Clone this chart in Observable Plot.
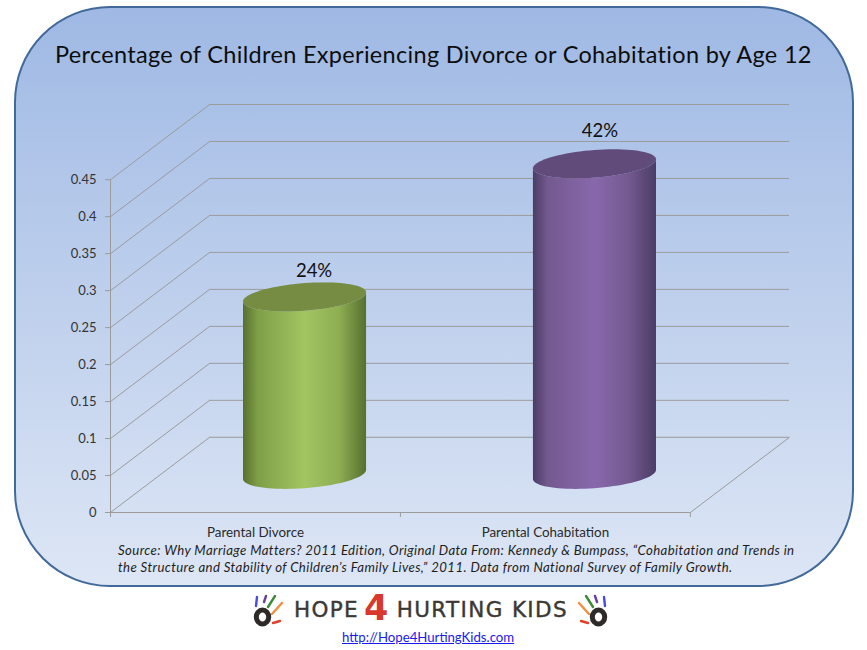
<!DOCTYPE html>
<html>
<head>
<meta charset="utf-8">
<script src="https://cdn.jsdelivr.net/npm/d3@7"></script>
<script src="https://cdn.jsdelivr.net/npm/@observablehq/plot@0.6"></script>
<style>
  html, body { margin: 0; padding: 0; background: #fff; }
  #stage { position: relative; width: 867px; height: 650px; overflow: hidden; font-family: Lato, "Open Sans", sans-serif; }
  #panel { position: absolute; left: 14px; top: 6px; width: 836px; height: 577px; border: 2.5px solid #41699a; border-radius: 96px;
           background: linear-gradient(to bottom, #9fb9e4 0%, #dde6f5 100%); box-sizing: content-box; }
  #plot { position: absolute; left: 0; top: 0; }
  #plot svg { background: transparent; display: block; }
  .abs { position: absolute; white-space: nowrap; }
  #title { left: 55px; top: 38px; font-size: 23.5px; color: #0d0d0d; letter-spacing: .32px; line-height: 32px; }
  #source { left: 118px; top: 542px; font-size: 13.2px; font-style: italic; color: #1d1d1d; line-height: 16.5px; letter-spacing: .39px; }
  #brand { left: 294px; top: 594px; font-family: "DejaVu Sans", sans-serif; font-size: 21.5px; color: #3b3835; letter-spacing: 1.35px; line-height: 32px; -webkit-text-stroke: .4px #3b3835; }
  #brand b { color: #d8392c; -webkit-text-stroke: 0; font-size: 35px; font-weight: 700; margin: 0 7px 0 5px; vertical-align: -3px; line-height: 20px; }
  #link { left: 342px; top: 629px; font-size: 13.2px; color: #1a1aee; text-decoration: underline; line-height: 17px; }
  .hand { position: absolute; top: 592px; width: 34px; height: 36px; }
</style>
</head>
<body>
<div id="stage">
  <div id="panel"></div>
  <div id="plot"></div>
  <div id="title" class="abs">Percentage of Children Experiencing Divorce or Cohabitation by Age 12</div>
  <div id="source" class="abs">Source: Why Marriage Matters? 2011 Edition, Original Data From: Kennedy &amp; Bumpass, “Cohabitation and Trends in<br>the Structure and Stability of Children’s Family Lives,” 2011. Data from National Survey of Family Growth.</div>
  <svg class="hand" style="left:252px" viewBox="0 0 34 36">
    <g fill="none" stroke-linecap="round" stroke-width="2.4">
      <path d="M5 5 L4 14" stroke="#4a4ae0"/><path d="M14 4 L12 10" stroke="#6a3f9a"/>
      <path d="M23 4 L16 15" stroke="#3e8a3a"/><path d="M30 11 L20 22" stroke="#ee9040"/>
      <path d="M28 29 L21 31" stroke="#e0402c"/>
    </g>
    <ellipse cx="10.5" cy="25" rx="6.2" ry="7" fill="#fff" stroke="#2d2a28" stroke-width="5"/>
  </svg>
  <div id="brand" class="abs">HOPE<b>4</b>HURTING KIDS</div>
  <svg class="hand" style="left:575px; transform: scaleX(-1)" viewBox="0 0 34 36">
    <g fill="none" stroke-linecap="round" stroke-width="2.4">
      <path d="M5 5 L4 14" stroke="#4a4ae0"/><path d="M14 4 L12 10" stroke="#6a3f9a"/>
      <path d="M23 4 L16 15" stroke="#3e8a3a"/><path d="M30 11 L20 22" stroke="#ee9040"/>
      <path d="M28 29 L21 31" stroke="#e0402c"/>
    </g>
    <ellipse cx="10.5" cy="25" rx="6.2" ry="7" fill="#fff" stroke="#2d2a28" stroke-width="5"/>
  </svg>
  <a id="link" class="abs" href="http://Hope4HurtingKids.com">http://Hope4HurtingKids.com</a>
</div>
<script>
// ---- Data ----
const categories = ["Parental Divorce", "Parental Cohabitation"];
const values = [0.24, 0.42];
const valueLabels = ["24%", "42%"];
const yTicks = [0, 0.05, 0.1, 0.15, 0.2, 0.25, 0.3, 0.35, 0.4, 0.45];
const bodyColors = [
  ["#58702f", "#7f9f47", "#a2c562", "#8eae52", "#56702f"],
  ["#4b3c66", "#73598f", "#8868ac", "#73598f", "#4b3c66"]
];
const capColors = ["#758c42", "#614b7a"];

// Depth of the floor in scale units: the oblique projection of the 3-D box.
const depthX = 0.342;
const depthY = 0.1017;
const slots = categories.map((_, i) => i + 0.5);
const radius = 0.2017;     // half width of a cylinder, x units
const radial = 0.193;      // half depth of a cylinder, share of the floor depth

// One rim point of a cylinder (oblique circle), in scale units
const rim = (i, level, t) => ({
  x: slots[i] + depthX / 2 + radius * Math.cos(t) + radial * depthX * Math.sin(t),
  y: depthY / 2 + level + radial * depthY * Math.sin(t)
});
const t0 = Math.atan(radial * depthX / radius);
const steps = d3.range(0, 41).map(k => k / 40);
const frontArc = (i, level) => steps.map(s => rim(i, level, Math.PI + t0 + s * Math.PI));
const backArc  = (i, level) => steps.map(s => rim(i, level, Math.PI + t0 - s * Math.PI));
const zipArcs = (a, b) => a.map((p, k) => ({x1: p.x, y1: p.y, x2: b[k].x, y2: b[k].y}));

const gradients = () => {
  const defs = d3.create("svg:defs");
  bodyColors.forEach((stops, i) => {
    const g = defs.append("linearGradient").attr("id", "body" + i);
    [0, 0.12, 0.5, 0.78, 1].forEach((o, k) =>
      g.append("stop").attr("offset", o).attr("stop-color", stops[k]));
  });
  return defs.node();
};

const grid = {stroke: "#9b9b9b", strokeWidth: 1};
const xEnd = categories.length;

const chart = Plot.plot({
  width: 867,
  height: 650,
  marginLeft: 110,
  marginRight: 78,
  marginTop: 104,
  marginBottom: 138,
  style: {background: "transparent", overflow: "visible"},
  x: {domain: [0, xEnd + depthX], axis: null},
  y: {domain: [0, 0.45 + depthY], axis: null},
  marks: [
    gradients,
    // back wall
    Plot.ruleY(yTicks, {y: d => d + depthY, x1: depthX, x2: xEnd + depthX, ...grid}),
    // left wall diagonals
    Plot.link(yTicks, {x1: 0, y1: d => d, x2: depthX, y2: d => d + depthY, ...grid}),
    // floor edge on the right
    Plot.link([0], {x1: xEnd, y1: 0, x2: xEnd + depthX, y2: depthY, ...grid}),
    // axes
    Plot.ruleX([0], {y1: 0, y2: 0.45, ...grid}),
    Plot.ruleY([0], {x1: 0, x2: xEnd, ...grid}),
    Plot.axisY({ticks: yTicks, tickFormat: d => String(d), tickSize: 5, tickPadding: 9, stroke: "#9b9b9b",
                fontSize: 13, color: "#333", fill: "#333", label: null}),
    Plot.axisX({ticks: d3.range(0, xEnd + 1), tickSize: 5, tickFormat: () => "", stroke: "#9b9b9b", label: null}),
    Plot.axisX({ticks: slots, tickSize: 0, tickPadding: 15, tickFormat: d => categories[slots.indexOf(d)],
                fontSize: 13.4, fill: "#2a2a2a", label: null, stroke: "none"}),
    // cylinders
    ...values.flatMap((v, i) => [
      Plot.area(zipArcs(frontArc(i, 0), frontArc(i, v)), {x1: "x1", y1: "y1", x2: "x2", y2: "y2", fill: `url(#body${i})`}),
      Plot.area(zipArcs(frontArc(i, v), backArc(i, v)), {x1: "x1", y1: "y1", x2: "x2", y2: "y2", fill: capColors[i]})
    ]),
    // value labels
    Plot.text([0], {x: slots[0] + depthX / 2, y: values[0] + depthY / 2, text: () => valueLabels[0],
                    dx: 9, dy: -26, fontSize: 18.5, fill: "#111"}),
    Plot.text([0], {x: slots[1] + depthX / 2, y: values[1] + depthY / 2, text: () => valueLabels[1],
                    dx: 5, dy: -33, fontSize: 18.5, fill: "#111"})
  ]
});
chart.style.fontFamily = 'Lato, "Open Sans", sans-serif';
document.getElementById("plot").appendChild(chart);
</script>
</body>
</html>
